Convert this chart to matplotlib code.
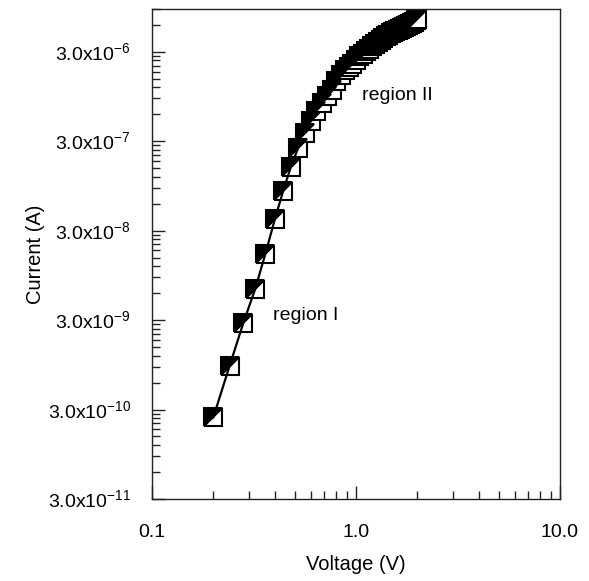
import numpy as np
import matplotlib.pyplot as plt
from matplotlib.markers import MarkerStyle
from matplotlib.transforms import Affine2D
from matplotlib.ticker import FixedLocator, FixedFormatter, NullFormatter

plt.rcParams['font.family'] = ['Liberation Sans', 'DejaVu Sans']

voltage = [0.20, 0.24, 0.28, 0.32, 0.36, 0.40, 0.44, 0.48, 0.52, 0.56,
           0.60, 0.64, 0.68, 0.72, 0.76, 0.80, 0.84, 0.88, 0.92, 0.96,
           1.00, 1.04, 1.08, 1.12, 1.16, 1.20, 1.24, 1.28, 1.32, 1.36,
           1.40, 1.44, 1.48, 1.52, 1.56, 1.60, 1.64, 1.68, 1.72, 1.76,
           1.80, 1.84, 1.88, 1.92, 1.96, 2.00]
current = [2.46e-10, 9.2e-10, 2.75e-9, 6.6e-9, 1.66e-8, 4.0e-8, 8.4e-8, 1.56e-7, 2.5e-7, 3.7e-7,
           5.0e-7, 6.5e-7, 8.0e-7, 9.7e-7, 1.13e-6, 1.4e-6, 1.65e-6, 1.85e-6, 2.0e-6, 2.2e-6,
           2.45e-6, 2.7e-6, 2.85e-6, 3.05e-6, 3.25e-6, 3.45e-6, 3.65e-6, 3.85e-6, 4.05e-6, 4.25e-6,
           4.45e-6, 4.6e-6, 4.8e-6, 4.95e-6, 5.1e-6, 5.25e-6, 5.4e-6, 5.55e-6, 5.7e-6, 5.85e-6,
           6.0e-6, 6.15e-6, 6.3e-6, 6.5e-6, 6.7e-6, 6.9e-6]
n_fit = 9  # points of region I joined by the line

y_major = [3e-11, 3e-10, 3e-9, 3e-8, 3e-7, 3e-6]
y_labels = [r'3.0x10$^{\mathregular{-%d}}$' % k for k in (11, 10, 9, 8, 7, 6)]
x_major = [0.1, 1.0, 10.0]
x_labels = ['0.1', '1.0', '10.0']

fig = plt.figure(figsize=(5.89, 5.81), dpi=100)
ax = fig.add_axes([0.258, 0.1411, 0.6927, 0.8434])
ax.set_xscale('log')
ax.set_yscale('log')

# half filled square: white lower-right half drawn first, black upper-left half on top
mk = MarkerStyle('D', fillstyle='right', transform=Affine2D().rotate_deg(-45))
ax.plot(voltage, current, linestyle='none', marker=mk, markersize=13,
        markerfacecolor='white', markerfacecoloralt='black',
        markeredgecolor='black', markeredgewidth=1.5, zorder=2)

ax.plot(voltage[:n_fit], current[:n_fit], color='black', linewidth=1.6, zorder=3)

ax.text(0.393, 3.4e-9, 'region I', fontsize=14, va='center', ha='left')
ax.text(1.07, 9.6e-7, 'region II', fontsize=14, va='center', ha='left')

ax.set_xlim(0.1, 10)
ax.set_ylim(3e-11, 9e-6)

ax.xaxis.set_major_locator(FixedLocator(x_major))
ax.xaxis.set_major_formatter(FixedFormatter(x_labels))
x_minor = [k * d for d in (0.1, 1.0) for k in range(2, 10)]
ax.xaxis.set_minor_locator(FixedLocator(x_minor))
ax.xaxis.set_minor_formatter(NullFormatter())

ax.yaxis.set_major_locator(FixedLocator(y_major))
ax.yaxis.set_major_formatter(FixedFormatter(y_labels))
y_minor = [k * d for d in y_major for k in range(2, 10)]
ax.yaxis.set_minor_locator(FixedLocator(y_minor))
ax.yaxis.set_minor_formatter(NullFormatter())

ax.tick_params(which='both', direction='in', top=False, right=False,
               labelsize=14, color='#222222')
ax.tick_params(which='major', length=9.5, width=1)
ax.tick_params(which='minor', length=5.5, width=1)
ax.tick_params(axis='y', which='major', pad=15)
ax.tick_params(axis='x', which='major', pad=18)

for s in ax.spines.values():
    s.set_linewidth(1.0)
    s.set_color('#222222')

ax.set_xlabel('Voltage (V)', fontsize=14.5, labelpad=10)
ax.set_ylabel('Current (A)', fontsize=14.5, labelpad=2)

fig.savefig('out.png', dpi=100)
